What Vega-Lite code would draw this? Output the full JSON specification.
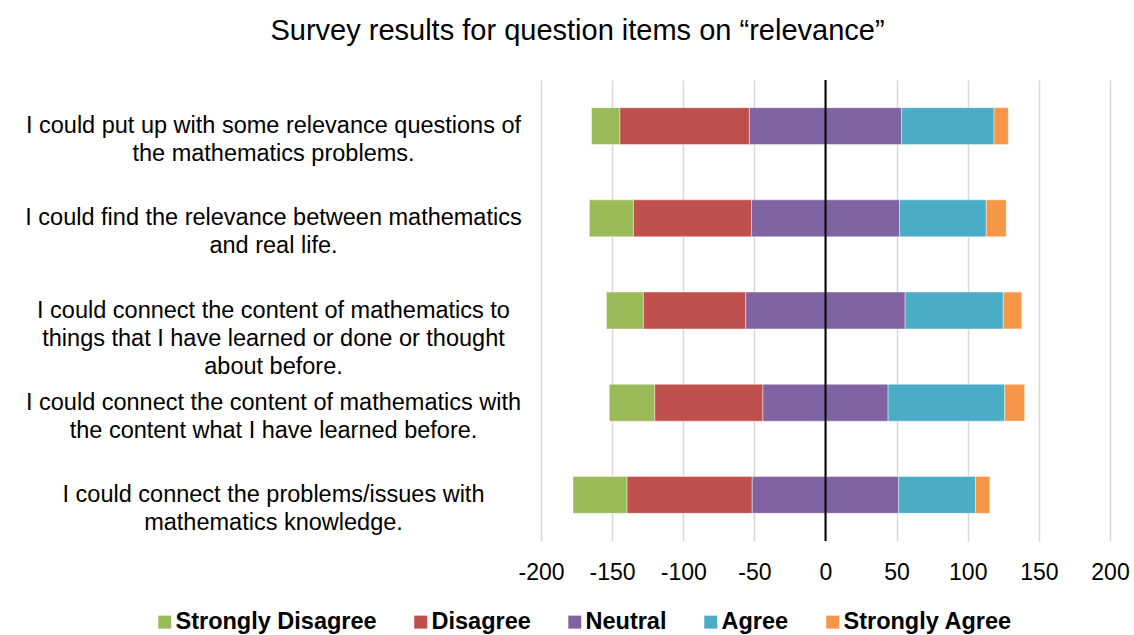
{
  "$schema": "https://vega.github.io/schema/vega-lite/v6.json",
  "width": 569,
  "height": 461,
  "autosize": {"type": "none"},
  "padding": {"left": 541, "top": 80, "right": 24, "bottom": 94},
  "background": "white",
  "title": {
    "text": "Survey results for question items on “relevance”",
    "font": "Liberation Sans",
    "fontSize": 29,
    "fontWeight": "normal",
    "color": "#000000",
    "anchor": "middle",
    "dx": -248,
    "offset": 33
  },
  "data": {
    "values": [
      {"item": "I could put up with some relevance questions of\nthe mathematics problems.", "response": "Strongly Disagree", "level": 1, "value": -20},
      {"item": "I could put up with some relevance questions of\nthe mathematics problems.", "response": "Disagree", "level": 2, "value": -91},
      {"item": "I could put up with some relevance questions of\nthe mathematics problems.", "response": "Neutral", "level": 3, "value": -53.5},
      {"item": "I could put up with some relevance questions of\nthe mathematics problems.", "response": "Neutral", "level": 3, "value": 53.5},
      {"item": "I could put up with some relevance questions of\nthe mathematics problems.", "response": "Agree", "level": 4, "value": 65},
      {"item": "I could put up with some relevance questions of\nthe mathematics problems.", "response": "Strongly Agree", "level": 5, "value": 10},
      {"item": "I could find the relevance between mathematics\nand real life.", "response": "Strongly Disagree", "level": 1, "value": -31},
      {"item": "I could find the relevance between mathematics\nand real life.", "response": "Disagree", "level": 2, "value": -83},
      {"item": "I could find the relevance between mathematics\nand real life.", "response": "Neutral", "level": 3, "value": -52},
      {"item": "I could find the relevance between mathematics\nand real life.", "response": "Neutral", "level": 3, "value": 52},
      {"item": "I could find the relevance between mathematics\nand real life.", "response": "Agree", "level": 4, "value": 61},
      {"item": "I could find the relevance between mathematics\nand real life.", "response": "Strongly Agree", "level": 5, "value": 14},
      {"item": "I could connect the content of mathematics to\nthings that I have learned or done or thought\nabout before.", "response": "Strongly Disagree", "level": 1, "value": -26},
      {"item": "I could connect the content of mathematics to\nthings that I have learned or done or thought\nabout before.", "response": "Disagree", "level": 2, "value": -72},
      {"item": "I could connect the content of mathematics to\nthings that I have learned or done or thought\nabout before.", "response": "Neutral", "level": 3, "value": -56},
      {"item": "I could connect the content of mathematics to\nthings that I have learned or done or thought\nabout before.", "response": "Neutral", "level": 3, "value": 56},
      {"item": "I could connect the content of mathematics to\nthings that I have learned or done or thought\nabout before.", "response": "Agree", "level": 4, "value": 69},
      {"item": "I could connect the content of mathematics to\nthings that I have learned or done or thought\nabout before.", "response": "Strongly Agree", "level": 5, "value": 13},
      {"item": "I could connect the content of mathematics with\nthe content what I have learned before.", "response": "Strongly Disagree", "level": 1, "value": -32},
      {"item": "I could connect the content of mathematics with\nthe content what I have learned before.", "response": "Disagree", "level": 2, "value": -76},
      {"item": "I could connect the content of mathematics with\nthe content what I have learned before.", "response": "Neutral", "level": 3, "value": -44},
      {"item": "I could connect the content of mathematics with\nthe content what I have learned before.", "response": "Neutral", "level": 3, "value": 44},
      {"item": "I could connect the content of mathematics with\nthe content what I have learned before.", "response": "Agree", "level": 4, "value": 82},
      {"item": "I could connect the content of mathematics with\nthe content what I have learned before.", "response": "Strongly Agree", "level": 5, "value": 14},
      {"item": "I could connect the problems/issues with\nmathematics knowledge.", "response": "Strongly Disagree", "level": 1, "value": -38},
      {"item": "I could connect the problems/issues with\nmathematics knowledge.", "response": "Disagree", "level": 2, "value": -88},
      {"item": "I could connect the problems/issues with\nmathematics knowledge.", "response": "Neutral", "level": 3, "value": -51.5},
      {"item": "I could connect the problems/issues with\nmathematics knowledge.", "response": "Neutral", "level": 3, "value": 51.5},
      {"item": "I could connect the problems/issues with\nmathematics knowledge.", "response": "Agree", "level": 4, "value": 54},
      {"item": "I could connect the problems/issues with\nmathematics knowledge.", "response": "Strongly Agree", "level": 5, "value": 10}
    ]
  },
  "layer": [
    {
      "transform": [{"filter": "datum.value < 0"}],
      "mark": {"type": "bar", "stroke": "white", "strokeWidth": 0.6, "strokeOpacity": 0.7},
      "encoding": {
        "y": {"field": "item", "type": "nominal", "sort": null, "scale": {"paddingInner": 0.6, "paddingOuter": 0.3}, "axis": {"title": null, "domain": false, "ticks": false, "grid": false, "labelAlign": "center", "labelBaseline": "middle", "labelPadding": 268, "labelFontSize": 23.5, "labelLineHeight": 28, "labelLimit": 0, "labelColor": "#000000", "labelFont": "Liberation Sans", "labelExpr": "split(datum.label, '\\n')"}},
        "x": {"field": "value", "type": "quantitative", "stack": "zero", "scale": {"domain": [-200, 200], "nice": false, "zero": false}, "axis": {"title": null, "values": [-200, -150, -100, -50, 0, 50, 100, 150, 200], "labelExpr": "'' + datum.value", "labelOverlap": false, "labelFlush": false, "grid": true, "gridColor": "#d9d9d9", "gridWidth": 1.5, "domain": false, "ticks": false, "labelFontSize": 23, "labelPadding": 20, "labelColor": "#000000", "labelFont": "Liberation Sans"}},
        "color": {"field": "response", "type": "nominal", "scale": {"domain": ["Strongly Disagree", "Disagree", "Neutral", "Agree", "Strongly Agree"], "range": ["#9BBB59", "#C0504D", "#8064A2", "#4BACC6", "#F79646"]}, "legend": {"orient": "none", "legendX": -388, "legendY": 530, "direction": "horizontal", "title": null, "symbolType": "square", "symbolSize": 169, "symbolStrokeWidth": 0, "labelFontSize": 23.5, "labelFontWeight": "bold", "labelFont": "Liberation Sans", "labelColor": "#000000", "labelLimit": 0, "columnPadding": 32, "labelOffset": -1, "padding": 0}},
        "order": {"field": "level", "type": "quantitative", "sort": "descending"}
      }
    },
    {
      "transform": [{"filter": "datum.value > 0"}],
      "mark": {"type": "bar", "stroke": "white", "strokeWidth": 0.6, "strokeOpacity": 0.7},
      "encoding": {
        "y": {"field": "item", "type": "nominal", "sort": null},
        "x": {"field": "value", "type": "quantitative", "stack": "zero"},
        "color": {"field": "response", "type": "nominal"},
        "order": {"field": "level", "type": "quantitative", "sort": "ascending"}
      }
    },
    {
      "data": {"values": [{}]},
      "mark": {"type": "rule", "color": "#000000", "strokeWidth": 2},
      "encoding": {"x": {"datum": 0}}
    }
  ],
  "config": {
    "view": {"stroke": null},
    "font": "Liberation Sans"
  }
}
